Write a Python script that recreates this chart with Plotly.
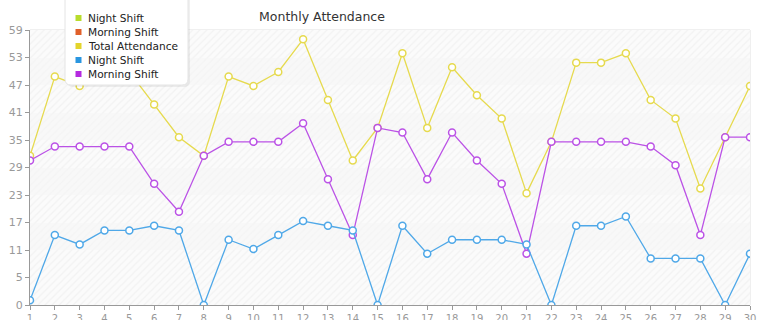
import plotly.graph_objects as go

days = list(range(1, 31))
night_shift = [1, 15, 13, 16, 16, 17, 16, 0, 14, 12, 15, 18, 17, 16, 0,
               17, 11, 14, 14, 14, 13, 0, 17, 17, 19, 10, 10, 10, 0, 11]
morning_shift = [31, 34, 34, 34, 34, 26, 20, 32, 35, 35, 35, 39, 27, 15, 38,
                 37, 27, 37, 31, 26, 11, 35, 35, 35, 35, 34, 30, 15, 36, 36]
total_attendance = [n + m for n, m in zip(night_shift, morning_shift)]

legend_names = ["Night Shift", "Morning Shift", "Total Attendance", "Night Shift", "Morning Shift"]
legend_colors = ["#b8dc2c", "#e0602a", "#e3d42c", "#2a96e0", "#b52ae0"]

y_tick_vals = [0, 5.9, 11.8, 17.7, 23.6, 29.5, 35.4, 41.3, 47.2, 53.1, 59]
y_tick_text = ["0", "5", "11", "17", "23", "29", "35", "41", "47", "53", "59"]

W, H = 765, 320
ML, MR, MT, MB = 30, 15, 30, 15
PW, PH = W - ML - MR, H - MT - MB


def px(x):
    return (x - ML) / PW


def py(y):
    return (H - MB - y) / PH


fig = go.Figure()

# background bands (hatched)
band_lows = y_tick_vals[:-1]
for i, lo in enumerate(band_lows):
    dense = (i % 2 == 1) or i == 0
    fig.add_trace(go.Bar(
        x=[15.5], y=[5.9], base=[lo], width=[29],
        marker=dict(color="#fbfbfb" if dense else "#f9f9f9",
                    line=dict(width=0),
                    pattern=dict(shape="/", fgcolor="#e9e9e9" if dense else "#efefef",
                                 bgcolor="#fbfbfb" if dense else "#f8f8f8",
                                 size=5, solidity=0.25)),
        showlegend=False, hoverinfo="skip"))

line_specs = [
    (total_attendance, "#e6da4e", "Total Attendance"),
    (morning_shift, "#bb52e6", "Morning Shift"),
    (night_shift, "#4fa8e8", "Night Shift"),
]
for vals, col, name in line_specs:
    fig.add_trace(go.Scatter(
        x=days, y=vals, mode="lines+markers", name=name,
        line=dict(color=col, width=1.3),
        marker=dict(symbol="circle", size=7, color="white",
                    line=dict(color=col, width=1.5)),
        showlegend=False))

# custom legend (box, squares, labels)
lx0, lx1, ly0, ly1, r = 65, 188, -4, 85, 6
box_path = (f"M {px(lx0)},{py(ly0)} L {px(lx0)},{py(ly1 - r)} "
            f"Q {px(lx0)},{py(ly1)} {px(lx0 + r)},{py(ly1)} "
            f"L {px(lx1 - r)},{py(ly1)} Q {px(lx1)},{py(ly1)} {px(lx1)},{py(ly1 - r)} "
            f"L {px(lx1)},{py(ly0)} Z")
shapes = [
    dict(type="rect", xref="paper", yref="paper", x0=0, x1=1, y0=0, y1=1,
         line=dict(color="#e0e0e0", width=1), layer="below"),
    dict(type="path", xref="paper", yref="paper",
         path=(f"M {px(lx0+2)},{py(ly0)} L {px(lx0+2)},{py(ly1+2 - r)} "
               f"Q {px(lx0+2)},{py(ly1+2)} {px(lx0 + 2 + r)},{py(ly1+2)} "
               f"L {px(lx1+2 - r)},{py(ly1+2)} Q {px(lx1+2)},{py(ly1+2)} {px(lx1+2)},{py(ly1+2 - r)} "
               f"L {px(lx1+2)},{py(ly0)} Z"),
         fillcolor="rgba(0,0,0,0.06)", line=dict(width=0), layer="above"),
    dict(type="path", xref="paper", yref="paper", path=box_path,
         fillcolor="white", line=dict(color="#e4e4e4", width=1), layer="above"),
]
annotations = []
for k, (name, col) in enumerate(zip(legend_names, legend_colors)):
    cy = 18 + 14 * k
    shapes.append(dict(type="rect", xref="paper", yref="paper",
                       x0=px(75.5), x1=px(81.5), y0=py(cy + 3), y1=py(cy - 3),
                       fillcolor=col, line=dict(width=0), layer="above"))
    annotations.append(dict(text=name, xref="paper", yref="paper",
                            x=px(86), y=py(cy), xanchor="left", yanchor="middle",
                            showarrow=False,
                            font=dict(family="DejaVu Sans", size=10.6, color="#222222")))

fig.update_layout(
    width=W, height=H,
    margin=dict(l=ML, r=MR, t=MT, b=MB),
    paper_bgcolor="white", plot_bgcolor="#fafafa",
    barmode="overlay", bargap=0,
    font=dict(family="DejaVu Sans", size=11, color="#999999"),
    title=dict(text="Monthly Attendance", x=322 / W, xanchor="center",
               y=1 - 17 / H, yanchor="middle",
               font=dict(family="DejaVu Sans", size=12.5, color="#333333")),
    showlegend=False,
    xaxis=dict(range=[1, 30], tickmode="array", tickvals=days,
               ticktext=[str(d) for d in days], automargin=False,
               showgrid=True, gridcolor="#e2e2e2", griddash="dash", gridwidth=1,
               showline=True, linecolor="#999999", linewidth=1,
               ticks="outside", ticklen=4, tickcolor="#999999",
               zeroline=False, mirror=False, fixedrange=True,
               tickfont=dict(size=10, color="#999999")),
    yaxis=dict(range=[0, 59], tickmode="array", tickvals=y_tick_vals,
               ticktext=y_tick_text, automargin=False,
               showgrid=True, gridcolor="#e2e2e2", griddash="dash", gridwidth=1,
               showline=True, linecolor="#999999", linewidth=1,
               ticks="outside", ticklen=4, tickcolor="#999999",
               zeroline=False, fixedrange=True,
               tickfont=dict(size=11, color="#999999")),
    shapes=shapes,
    annotations=annotations,
)

fig.write_html("out.html")
